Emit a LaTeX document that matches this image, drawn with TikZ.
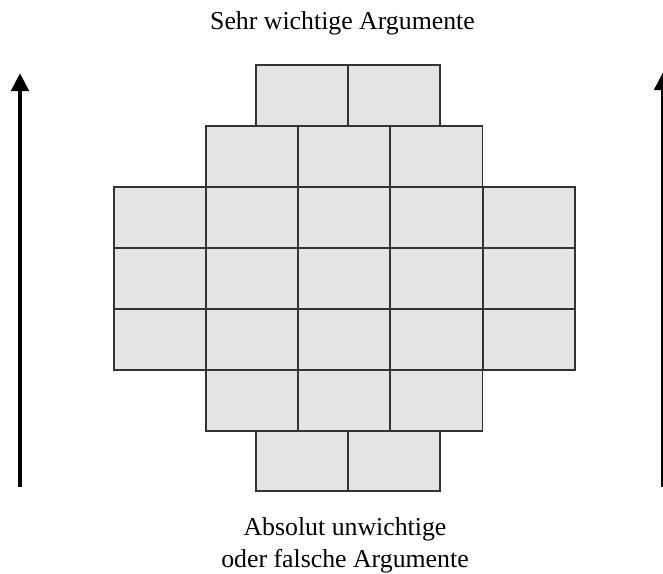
\documentclass[tikz,border=0pt]{standalone}
\usepackage{fontspec}
\setmainfont{Liberation Serif}
\usetikzlibrary{arrows.meta}
\definecolor{cellfill}{HTML}{E4E4E4}
\definecolor{cellline}{HTML}{333333}
\tikzset{
  cell/.style={draw=cellline, fill=cellfill, line width=1.4pt, rectangle, inner sep=0pt,
    minimum width=92pt, minimum height=61pt},
  bigarrow/.style={line width=4.6pt, -{Triangle[length=18pt,width=17pt]}},
  lbl/.style={font=\fontsize{25.8}{32}\selectfont, align=center, inner sep=0pt}
}
\begin{document}
\begin{tikzpicture}[x=1pt,y=-1pt]
\useasboundingbox (0,0) rectangle (663,573);
\clip (0,0) rectangle (663,573);
% row 1
\node[cell] (r1c1) at (302,95.5) {};
\node[cell] (r1c2) at (394,95.5) {};
% row 2
\node[cell] (r2c1) at (252,156.5) {};
\node[cell] (r2c2) at (344,156.5) {};
\node[cell] (r2c3) at (436.5,156.5) {};
% rows 3-5
\foreach \r/\y in {3/217.5,4/278.5,5/339.5}{
  \node[cell] (r\r c1) at (160,\y) {};
  \node[cell] (r\r c2) at (252,\y) {};
  \node[cell] (r\r c3) at (344,\y) {};
  \node[cell] (r\r c4) at (436.5,\y) {};
  \node[cell] (r\r c5) at (529,\y) {};
}
% row 6
\node[cell] (r6c1) at (252,400.5) {};
\node[cell] (r6c2) at (344,400.5) {};
\node[cell] (r6c3) at (436.5,400.5) {};
% row 7
\node[cell, minimum height=60pt] (r7c1) at (302,461) {};
\node[cell, minimum height=60pt] (r7c2) at (394,461) {};
% arrows
\coordinate (la0) at (20,487);
\coordinate (la1) at (20,73);
\coordinate (ra0) at (663,487);
\coordinate (ra1) at (663,72);
\draw[bigarrow] (la0) -- (la1);
\draw[bigarrow] (ra0) -- (ra1);
% labels
\node[lbl, anchor=base] (top) at (342.5,29) {Sehr wichtige Argumente};
\node[lbl, anchor=base] (bot1) at (345,535.5) {Absolut unwichtige};
\node[lbl, anchor=base] (bot2) at (345,567.5) {oder falsche Argumente};
\end{tikzpicture}
\end{document}
